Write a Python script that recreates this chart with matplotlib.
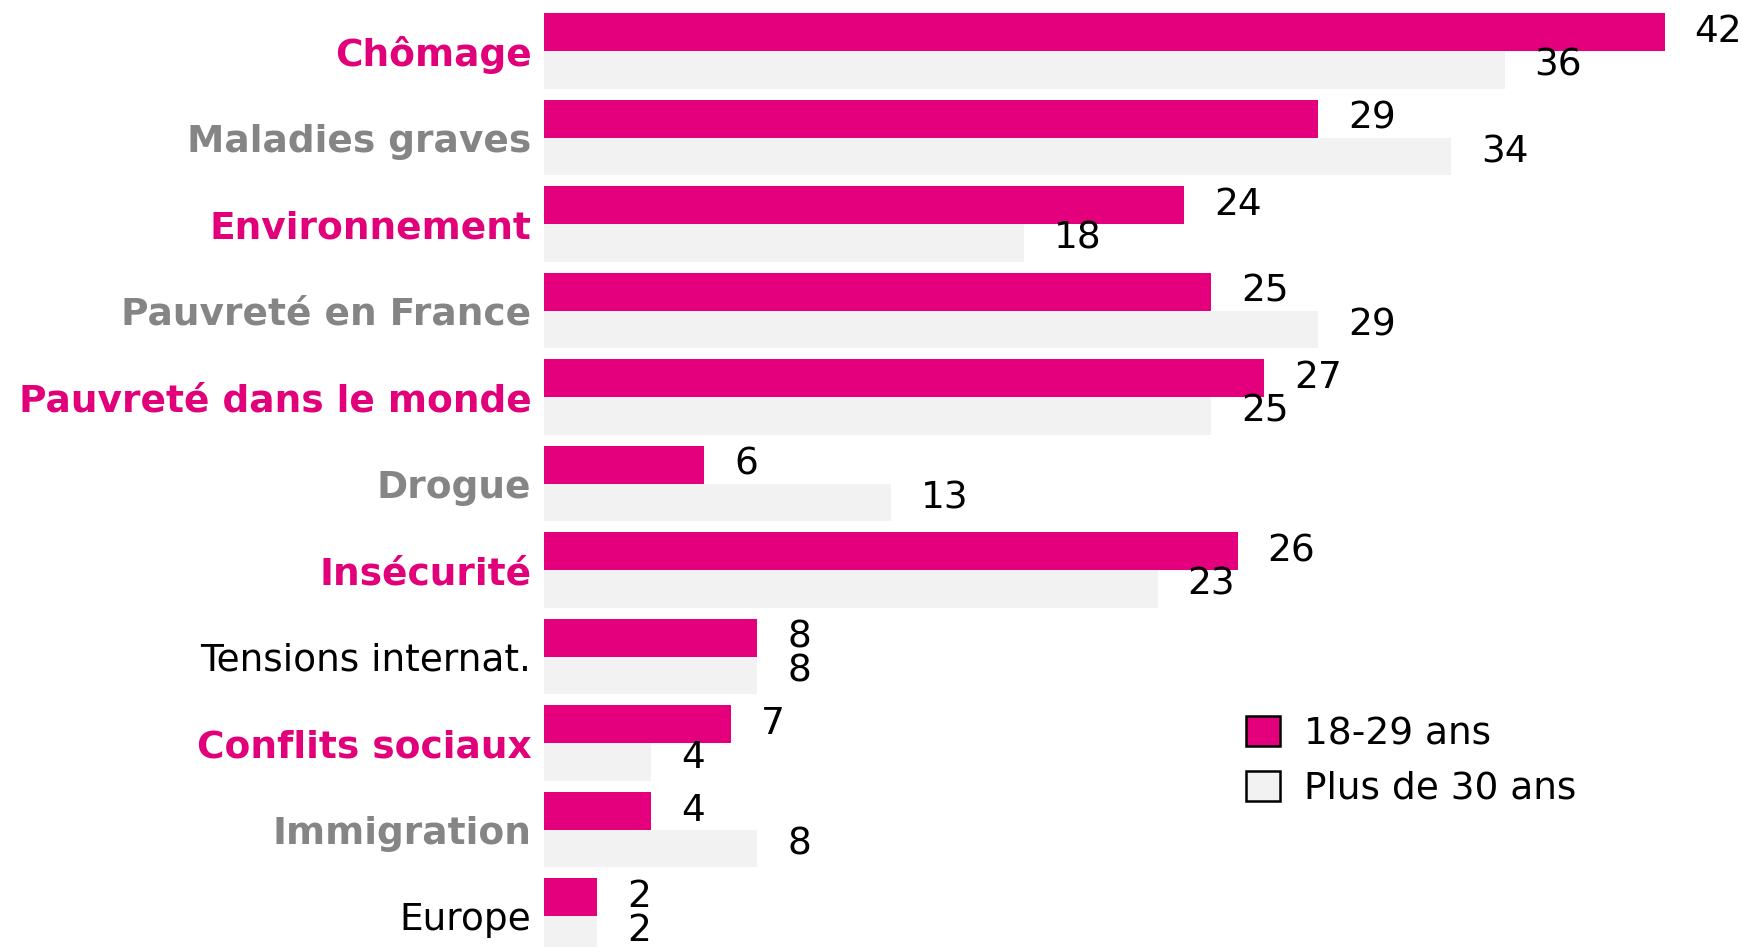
import numpy as np
import matplotlib.pyplot as plt
from matplotlib.patches import Patch

### données
categories = ['Chômage', 'Maladies graves', 'Environnement', 'Pauvreté en France',
              'Pauvreté dans le monde', 'Drogue', 'Insécurité', 'Tensions internat.',
              'Conflits sociaux', 'Immigration', 'Europe']
jeunes = [42, 29, 24, 25, 27, 6, 26, 8, 7, 4, 2]      # 18-29 ans
adultes = [36, 34, 18, 29, 25, 13, 23, 8, 4, 8, 2]    # Plus de 30 ans
series_labels = ['18-29 ans', 'Plus de 30 ans']

# style des libellés de catégorie
rose = '#E2007A'
gris = '#858585'
label_colors = [rose, gris, rose, gris, rose, gris, rose, 'black', rose, gris, 'black']
label_weights = ['bold'] * 7 + ['normal', 'bold', 'bold', 'normal']

bar_pink = '#E4007C'
bar_grey = '#F2F2F2'

### figure
W, H = 1742, 947
fig = plt.figure(figsize=(W / 100, H / 100), dpi=100)
left = 544 / W
ax = fig.add_axes([left, 0, 1 - left, 1])

y = np.arange(len(categories))
h = 0.436
ax.barh(y - h / 2, jeunes, height=h, color=bar_pink, label=series_labels[0])
ax.barh(y + h / 2, adultes, height=h, color=bar_grey, label=series_labels[1])

# valeurs
for yi, v in zip(y, jeunes):
    ax.annotate(str(v), (v, yi - h / 2), xytext=(30, 0), textcoords='offset pixels',
                ha='left', va='center', fontsize=27)
for yi, v in zip(y, adultes):
    ax.annotate(str(v), (v, yi + h / 2), xytext=(30, 4), textcoords='offset pixels',
                ha='left', va='center', fontsize=27)

# axes
ax.set_xlim(0, 44.9)
ax.set_ylim((H - 51) / 86.5, -51 / 86.5)
ax.set_yticks(y)
ax.set_yticklabels(categories, fontsize=27)
for t, c, w in zip(ax.get_yticklabels(), label_colors, label_weights):
    t.set_color(c)
    t.set_fontweight(w)
ax.tick_params(axis='y', length=0, pad=9)
ax.set_xticks([])
for s in ax.spines.values():
    s.set_visible(False)

# légende
handles = [Patch(facecolor=bar_pink, edgecolor='black', linewidth=1.8),
           Patch(facecolor=bar_grey, edgecolor='black', linewidth=1.8)]
fig.legend(handles, series_labels, loc='upper left', bbox_to_anchor=(1246 / W, 1 - 716 / H),
           frameon=False, fontsize=27, handlelength=0.9, handleheight=0.85,
           handletextpad=0.65, labelspacing=0.5, borderpad=0, borderaxespad=0)

fig.savefig('out.png', dpi=100)
